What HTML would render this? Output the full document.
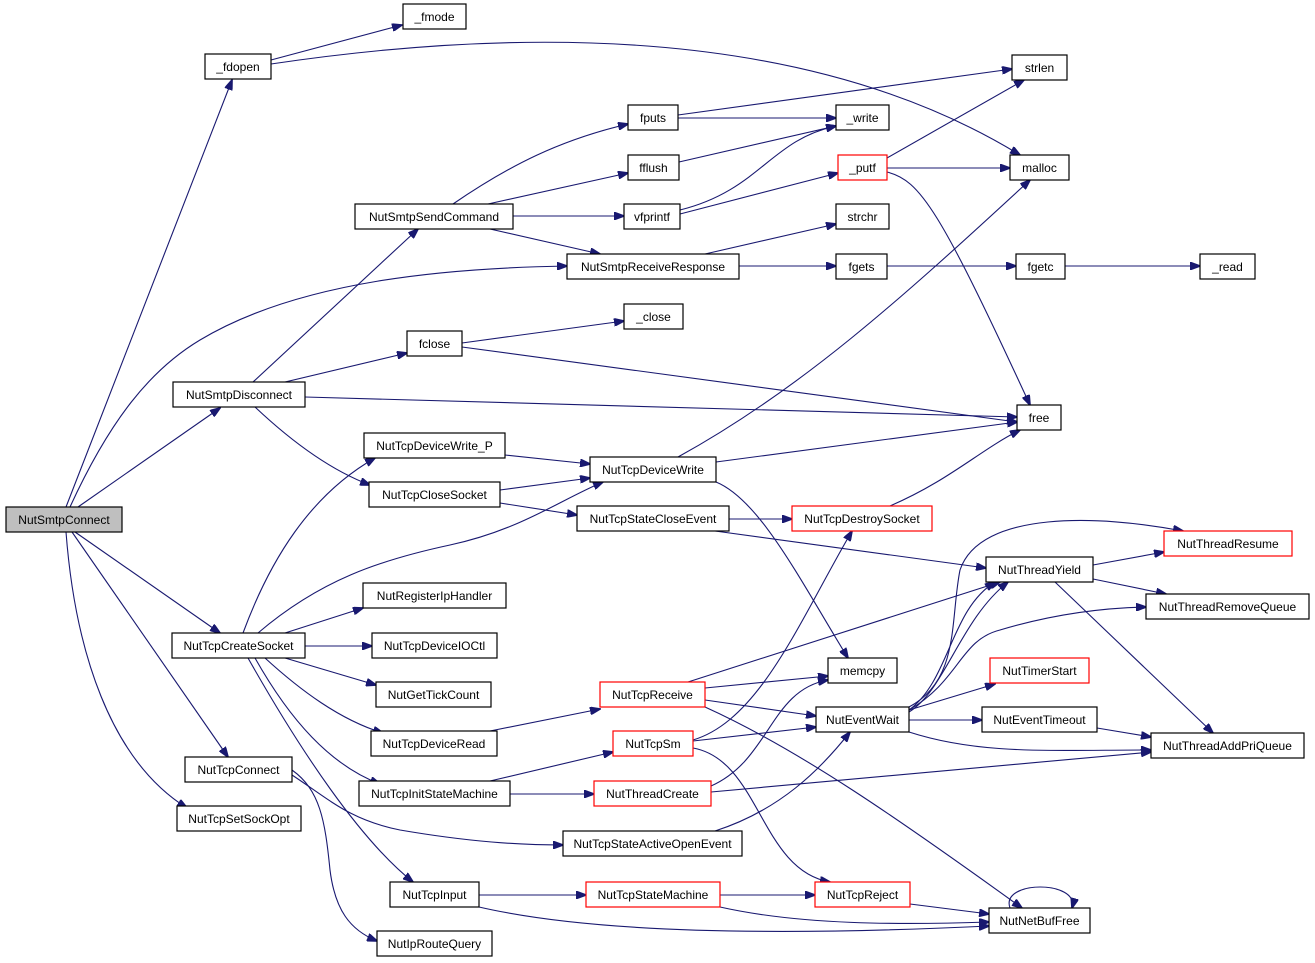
<!DOCTYPE html>
<html><head><meta charset="utf-8"><style>
html,body{margin:0;padding:0;background:#fff}
svg{display:block}
text{font-family:"Liberation Sans",sans-serif;font-size:12px;fill:#000}
.e{fill:none;stroke:#191970;stroke-width:1.1}
</style></head><body>
<svg width="1315" height="963" viewBox="0 0 1315 963" xmlns="http://www.w3.org/2000/svg">
<defs><marker id="a" markerWidth="11" markerHeight="8" refX="10" refY="4" orient="auto" markerUnits="userSpaceOnUse"><path d="M0,0 L11,4 L0,8 z" fill="#191970" stroke="#191970"/></marker></defs>
<g class="e" marker-end="url(#a)">
<path d="M66,507 L232,80"/>
<path d="M70,507 C110,420 150,370 200,340 C300,280 450,268 567,266"/>
<path d="M78,507 L220,408"/>
<path d="M75,532 L220,633"/>
<path d="M72,532 L228,757"/>
<path d="M66,532 C75,650 110,760 187,808"/>
<path d="M271,60 L402,25"/>
<path d="M271,64 C500,30 800,20 1020,155"/>
<path d="M678,115 L1012,69"/>
<path d="M678,118 L836,118"/>
<path d="M679,162 L836,126"/>
<path d="M680,210 C760,190 770,140 836,126"/>
<path d="M680,214 L838,173"/>
<path d="M887,158 L1024,80"/>
<path d="M887,168 L1010,168"/>
<path d="M887,172 C920,180 940,210 1030,405"/>
<path d="M453,204 C510,165 560,140 628,124"/>
<path d="M488,204 L628,173"/>
<path d="M513,216 L624,216"/>
<path d="M490,229 L600,254"/>
<path d="M705,254 L836,224"/>
<path d="M739,266 L836,266"/>
<path d="M887,266 L1016,266"/>
<path d="M1065,266 L1200,266"/>
<path d="M462,343 L624,321"/>
<path d="M462,347 L1017,422"/>
<path d="M253,382 L418,229"/>
<path d="M285,382 L407,353"/>
<path d="M305,397 L1017,417"/>
<path d="M255,407 C290,440 330,470 370,485"/>
<path d="M505,455 L590,464"/>
<path d="M678,457 C800,390 900,300 1030,180"/>
<path d="M716,462 L1017,422"/>
<path d="M716,482 C760,500 800,580 848,658"/>
<path d="M500,490 L590,478"/>
<path d="M500,503 L577,515"/>
<path d="M729,519 L792,519"/>
<path d="M715,531 L986,568"/>
<path d="M890,506 C950,480 980,450 1020,430"/>
<path d="M1093,565 L1164,552"/>
<path d="M1093,579 L1166,594"/>
<path d="M1055,582 L1213,733"/>
<path d="M243,633 C270,560 310,495 375,458"/>
<path d="M258,633 C320,580 380,560 450,545 C520,530 560,500 603,482"/>
<path d="M285,633 L363,608"/>
<path d="M305,646 L372,646"/>
<path d="M285,658 L376,685"/>
<path d="M265,658 C300,690 340,720 383,733"/>
<path d="M255,658 C290,720 330,765 380,784"/>
<path d="M248,658 C300,750 360,840 413,882"/>
<path d="M688,682 L1000,582"/>
<path d="M705,688 L828,676"/>
<path d="M705,700 L816,716"/>
<path d="M705,707 C800,750 900,820 1022,908"/>
<path d="M490,731 L600,709"/>
<path d="M693,740 C760,720 800,620 852,531"/>
<path d="M693,741 L816,727"/>
<path d="M693,748 C760,760 760,870 830,882"/>
<path d="M711,786 C770,760 770,690 828,680"/>
<path d="M711,792 L1151,752"/>
<path d="M490,781 L613,752"/>
<path d="M510,794 L594,794"/>
<path d="M292,775 C330,800 350,820 400,830 C470,842 520,845 563,845"/>
<path d="M292,770 C320,790 325,820 330,870 C335,910 350,930 377,941"/>
<path d="M715,831 C780,810 820,770 850,732"/>
<path d="M909,707 C960,680 950,620 960,570 C980,510 1100,515 1183,531"/>
<path d="M909,710 C950,680 950,610 995,582"/>
<path d="M909,712 C945,690 960,620 1008,582"/>
<path d="M909,710 C960,680 960,640 1000,630 C1050,615 1100,608 1146,607"/>
<path d="M909,710 L995,684"/>
<path d="M909,720 L982,720"/>
<path d="M909,732 C980,755 1050,750 1151,750"/>
<path d="M1097,728 L1151,737"/>
<path d="M479,895 L586,895"/>
<path d="M479,907 C600,935 800,935 989,926"/>
<path d="M720,895 L815,895"/>
<path d="M720,907 C800,925 900,925 989,922"/>
<path d="M910,904 L989,914"/>
<path d="M1010,908 C1000,880 1080,880 1072,908"/>
</g>
<g stroke-width="1.2">
<rect x="6" y="507" width="116" height="25" fill="#bfbfbf" stroke="#000"/><text x="64" y="524" text-anchor="middle">NutSmtpConnect</text>
<rect x="403" y="4" width="63" height="25" fill="#fff" stroke="#000"/><text x="434.5" y="21" text-anchor="middle">_fmode</text>
<rect x="205" y="54" width="66" height="25" fill="#fff" stroke="#000"/><text x="238" y="71" text-anchor="middle">_fdopen</text>
<rect x="1012" y="55" width="55" height="25" fill="#fff" stroke="#000"/><text x="1039.5" y="72" text-anchor="middle">strlen</text>
<rect x="628" y="105" width="50" height="25" fill="#fff" stroke="#000"/><text x="653" y="122" text-anchor="middle">fputs</text>
<rect x="836" y="105" width="53" height="25" fill="#fff" stroke="#000"/><text x="862.5" y="122" text-anchor="middle">_write</text>
<rect x="628" y="155" width="51" height="25" fill="#fff" stroke="#000"/><text x="653.5" y="172" text-anchor="middle">fflush</text>
<rect x="838" y="155" width="49" height="25" fill="#fff" stroke="#f00"/><text x="862.5" y="172" text-anchor="middle">_putf</text>
<rect x="1010" y="155" width="59" height="25" fill="#fff" stroke="#000"/><text x="1039.5" y="172" text-anchor="middle">malloc</text>
<rect x="355" y="204" width="158" height="25" fill="#fff" stroke="#000"/><text x="434" y="221" text-anchor="middle">NutSmtpSendCommand</text>
<rect x="624" y="204" width="56" height="25" fill="#fff" stroke="#000"/><text x="652" y="221" text-anchor="middle">vfprintf</text>
<rect x="836" y="204" width="53" height="25" fill="#fff" stroke="#000"/><text x="862.5" y="221" text-anchor="middle">strchr</text>
<rect x="567" y="254" width="172" height="25" fill="#fff" stroke="#000"/><text x="653" y="271" text-anchor="middle">NutSmtpReceiveResponse</text>
<rect x="836" y="254" width="51" height="25" fill="#fff" stroke="#000"/><text x="861.5" y="271" text-anchor="middle">fgets</text>
<rect x="1016" y="254" width="49" height="25" fill="#fff" stroke="#000"/><text x="1040.5" y="271" text-anchor="middle">fgetc</text>
<rect x="1200" y="254" width="55" height="25" fill="#fff" stroke="#000"/><text x="1227.5" y="271" text-anchor="middle">_read</text>
<rect x="624" y="304" width="59" height="25" fill="#fff" stroke="#000"/><text x="653.5" y="321" text-anchor="middle">_close</text>
<rect x="407" y="331" width="55" height="25" fill="#fff" stroke="#000"/><text x="434.5" y="348" text-anchor="middle">fclose</text>
<rect x="173" y="382" width="132" height="25" fill="#fff" stroke="#000"/><text x="239" y="399" text-anchor="middle">NutSmtpDisconnect</text>
<rect x="1017" y="405" width="44" height="25" fill="#fff" stroke="#000"/><text x="1039" y="422" text-anchor="middle">free</text>
<rect x="364" y="433" width="141" height="25" fill="#fff" stroke="#000"/><text x="434.5" y="450" text-anchor="middle">NutTcpDeviceWrite_P</text>
<rect x="590" y="457" width="126" height="25" fill="#fff" stroke="#000"/><text x="653" y="474" text-anchor="middle">NutTcpDeviceWrite</text>
<rect x="369" y="482" width="131" height="25" fill="#fff" stroke="#000"/><text x="434.5" y="499" text-anchor="middle">NutTcpCloseSocket</text>
<rect x="577" y="506" width="152" height="25" fill="#fff" stroke="#000"/><text x="653" y="523" text-anchor="middle">NutTcpStateCloseEvent</text>
<rect x="792" y="506" width="140" height="25" fill="#fff" stroke="#f00"/><text x="862" y="523" text-anchor="middle">NutTcpDestroySocket</text>
<rect x="1164" y="531" width="128" height="25" fill="#fff" stroke="#f00"/><text x="1228" y="548" text-anchor="middle">NutThreadResume</text>
<rect x="986" y="557" width="107" height="25" fill="#fff" stroke="#000"/><text x="1039.5" y="574" text-anchor="middle">NutThreadYield</text>
<rect x="363" y="583" width="143" height="25" fill="#fff" stroke="#000"/><text x="434.5" y="600" text-anchor="middle">NutRegisterIpHandler</text>
<rect x="1146" y="594" width="163" height="25" fill="#fff" stroke="#000"/><text x="1227.5" y="611" text-anchor="middle">NutThreadRemoveQueue</text>
<rect x="172" y="633" width="133" height="25" fill="#fff" stroke="#000"/><text x="238.5" y="650" text-anchor="middle">NutTcpCreateSocket</text>
<rect x="372" y="633" width="125" height="25" fill="#fff" stroke="#000"/><text x="434.5" y="650" text-anchor="middle">NutTcpDeviceIOCtl</text>
<rect x="828" y="658" width="69" height="25" fill="#fff" stroke="#000"/><text x="862.5" y="675" text-anchor="middle">memcpy</text>
<rect x="990" y="658" width="99" height="25" fill="#fff" stroke="#f00"/><text x="1039.5" y="675" text-anchor="middle">NutTimerStart</text>
<rect x="376" y="682" width="115" height="25" fill="#fff" stroke="#000"/><text x="433.5" y="699" text-anchor="middle">NutGetTickCount</text>
<rect x="600" y="682" width="105" height="25" fill="#fff" stroke="#f00"/><text x="652.5" y="699" text-anchor="middle">NutTcpReceive</text>
<rect x="816" y="707" width="93" height="25" fill="#fff" stroke="#000"/><text x="862.5" y="724" text-anchor="middle">NutEventWait</text>
<rect x="982" y="707" width="115" height="25" fill="#fff" stroke="#000"/><text x="1039.5" y="724" text-anchor="middle">NutEventTimeout</text>
<rect x="1151" y="733" width="153" height="25" fill="#fff" stroke="#000"/><text x="1227.5" y="750" text-anchor="middle">NutThreadAddPriQueue</text>
<rect x="371" y="731" width="126" height="25" fill="#fff" stroke="#000"/><text x="434" y="748" text-anchor="middle">NutTcpDeviceRead</text>
<rect x="613" y="731" width="80" height="25" fill="#fff" stroke="#f00"/><text x="653" y="748" text-anchor="middle">NutTcpSm</text>
<rect x="185" y="757" width="107" height="25" fill="#fff" stroke="#000"/><text x="238.5" y="774" text-anchor="middle">NutTcpConnect</text>
<rect x="359" y="781" width="151" height="25" fill="#fff" stroke="#000"/><text x="434.5" y="798" text-anchor="middle">NutTcpInitStateMachine</text>
<rect x="594" y="781" width="117" height="25" fill="#fff" stroke="#f00"/><text x="652.5" y="798" text-anchor="middle">NutThreadCreate</text>
<rect x="177" y="806" width="124" height="25" fill="#fff" stroke="#000"/><text x="239" y="823" text-anchor="middle">NutTcpSetSockOpt</text>
<rect x="563" y="831" width="179" height="25" fill="#fff" stroke="#000"/><text x="652.5" y="848" text-anchor="middle">NutTcpStateActiveOpenEvent</text>
<rect x="390" y="882" width="89" height="25" fill="#fff" stroke="#000"/><text x="434.5" y="899" text-anchor="middle">NutTcpInput</text>
<rect x="586" y="882" width="134" height="25" fill="#fff" stroke="#f00"/><text x="653" y="899" text-anchor="middle">NutTcpStateMachine</text>
<rect x="815" y="882" width="95" height="25" fill="#fff" stroke="#f00"/><text x="862.5" y="899" text-anchor="middle">NutTcpReject</text>
<rect x="989" y="908" width="101" height="25" fill="#fff" stroke="#000"/><text x="1039.5" y="925" text-anchor="middle">NutNetBufFree</text>
<rect x="377" y="931" width="115" height="25" fill="#fff" stroke="#000"/><text x="434.5" y="948" text-anchor="middle">NutIpRouteQuery</text>
</g>
</svg>
</body></html>
